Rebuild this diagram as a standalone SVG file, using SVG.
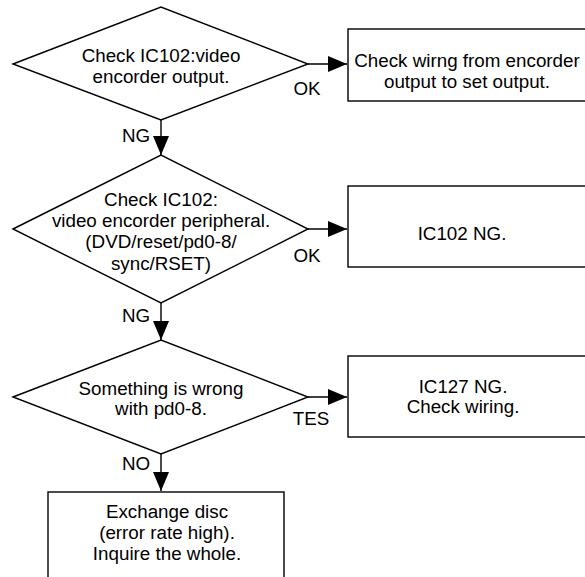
<svg xmlns="http://www.w3.org/2000/svg" width="585" height="577" viewBox="0 0 585 577">
<style>
.s{fill:#fff;stroke:#000;stroke-width:1.4}
.c{fill:none;stroke:#000;stroke-width:1.4}
text{font-family:"Liberation Sans",Arial,sans-serif;font-size:18.8px;fill:#000}
.m{text-anchor:middle}
</style>
<defs>
<marker id="ah" markerUnits="userSpaceOnUse" markerWidth="20" markerHeight="18" refX="19" refY="8" orient="auto">
<path d="M0,0 L19,8 L0,16 z" fill="#000"/>
</marker>
</defs>
<rect width="585" height="577" fill="#fff"/>
<g id="connectors">
<path class="c" d="M308,64 H347" marker-end="url(#ah)"/>
<path class="c" d="M161,120 V155" marker-end="url(#ah)"/>
<path class="c" d="M308,229 H347" marker-end="url(#ah)"/>
<path class="c" d="M161,303 V340" marker-end="url(#ah)"/>
<path class="c" d="M308,397 H347" marker-end="url(#ah)"/>
<path class="c" d="M161,454 V491" marker-end="url(#ah)"/>
<text class="m" x="307" y="95">OK</text>
<text class="m" x="136" y="142">NG</text>
<text class="m" x="307" y="262">OK</text>
<text class="m" x="136" y="322">NG</text>
<text class="m" x="311" y="425">TES</text>
<text class="m" x="136" y="470">NO</text>
</g>
<g id="d1">
<polygon class="s" points="13,64 161,7 308,64 161,120"/>
<text class="m" x="161" y="62">Check IC102:video</text>
<text class="m" x="161" y="83">encorder output.</text>
</g>
<g id="b1">
<rect class="s" x="348" y="29" width="240" height="72"/>
<text class="m" x="467" y="67">Check wirng from encorder</text>
<text class="m" x="467" y="88">output to set output.</text>
</g>
<g id="d2">
<polygon class="s" points="13,229 161,155 308,229 161,303"/>
<text class="m" x="161" y="206">Check IC102:</text>
<text class="m" x="161" y="227">video encorder peripheral.</text>
<text class="m" x="161" y="248">(DVD/reset/pd0-8/</text>
<text class="m" x="161" y="270">sync/RSET)</text>
</g>
<g id="b2">
<rect class="s" x="348" y="186" width="240" height="81"/>
<text class="m" x="462" y="240">IC102 NG.</text>
</g>
<g id="d3">
<polygon class="s" points="13,397 161,340 308,397 161,454"/>
<text class="m" x="161" y="395">Something is wrong</text>
<text class="m" x="161" y="415">with pd0-8.</text>
</g>
<g id="b3">
<rect class="s" x="348" y="356" width="240" height="81"/>
<text class="m" x="463" y="393">IC127 NG.</text>
<text class="m" x="463" y="413">Check wiring.</text>
</g>
<g id="b4">
<rect class="s" x="48" y="492" width="236" height="95"/>
<text class="m" x="167" y="518">Exchange disc</text>
<text class="m" x="167" y="539">(error rate high).</text>
<text class="m" x="167" y="560">Inquire the whole.</text>
</g>
</svg>
